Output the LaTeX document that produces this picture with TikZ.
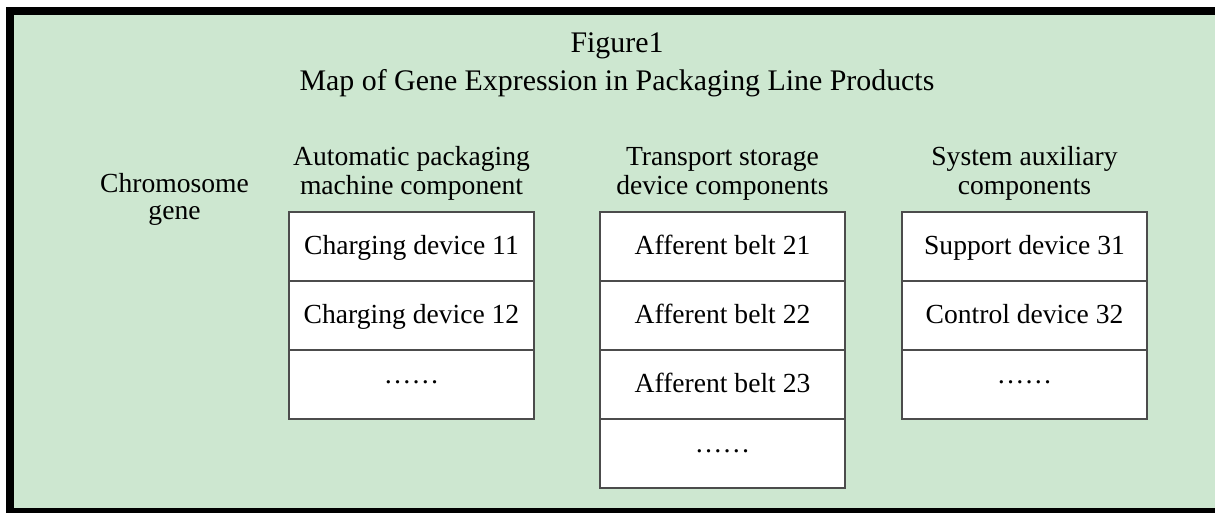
\documentclass[tikz,border=0pt]{standalone}
\usepackage{fontspec}
\setmainfont{Liberation Serif}
\usetikzlibrary{positioning}
\definecolor{bggreen}{RGB}{205,231,208}
\newcommand{\middots}{\raisebox{0.17cm}{……}}

\begin{document}
\begin{tikzpicture}[
    cell/.style={draw=black!70, fill=white, line width=0.6pt, minimum width=4.9cm,
        minimum height=1.38cm, outer sep=0pt, inner sep=0pt,
        text height=0.45cm, text depth=0.15cm,
        font=\fontsize{15.7pt}{16.5pt}\selectfont},
    head/.style={align=center, inner sep=0pt, font=\fontsize{15.7pt}{16.5pt}\selectfont},
    title/.style={inner sep=0pt, anchor=base, font=\fontsize{17pt}{20pt}\selectfont},
    node distance=0pt
]
    \useasboundingbox (0,0) rectangle (24.3,-10.24);

    % Frame
    \draw[line width=0.16cm, fill=bggreen] (0.2,-0.22) rectangle (24.5,-10.24);

    % Title
    \node[title] (fig) at (12.34,-1.04) {Figure1};
    \node[title] (map) at (12.34,-1.80) {Map of Gene Expression in Packaging Line Products};

    % Row label
    \node[head, anchor=north, font=\fontsize{15.7pt}{15.4pt}\selectfont] (chr) at (3.49,-3.46) {Chromosome\\gene};

    % Automatic packaging machine
    \node[cell] (c11) at (8.23,-4.93) {Charging device 11};
    \node[cell, below=of c11] (c12) {Charging device 12};
    \node[cell, below=of c12] (c13) {\middots};

    % Transport storage
    \node[cell] (c21) at (14.45,-4.93) {Afferent belt 21};
    \node[cell, below=of c21] (c22) {Afferent belt 22};
    \node[cell, below=of c22] (c23) {Afferent belt 23};
    \node[cell, below=of c23] (c24) {\middots};

    % System auxiliary
    \node[cell] (c31) at (20.49,-4.93) {Support device 31};
    \node[cell, below=of c31] (c32) {Control device 32};
    \node[cell, below=of c32] (c33) {\middots};

    % Column headers
    \node[head, above=0.22cm of c11] (h1) {Automatic packaging\\machine component};
    \node[head, above=0.22cm of c21] (h2) {Transport storage\\device components};
    \node[head, above=0.22cm of c31] (h3) {System auxiliary\\components};
\end{tikzpicture}
\end{document}
